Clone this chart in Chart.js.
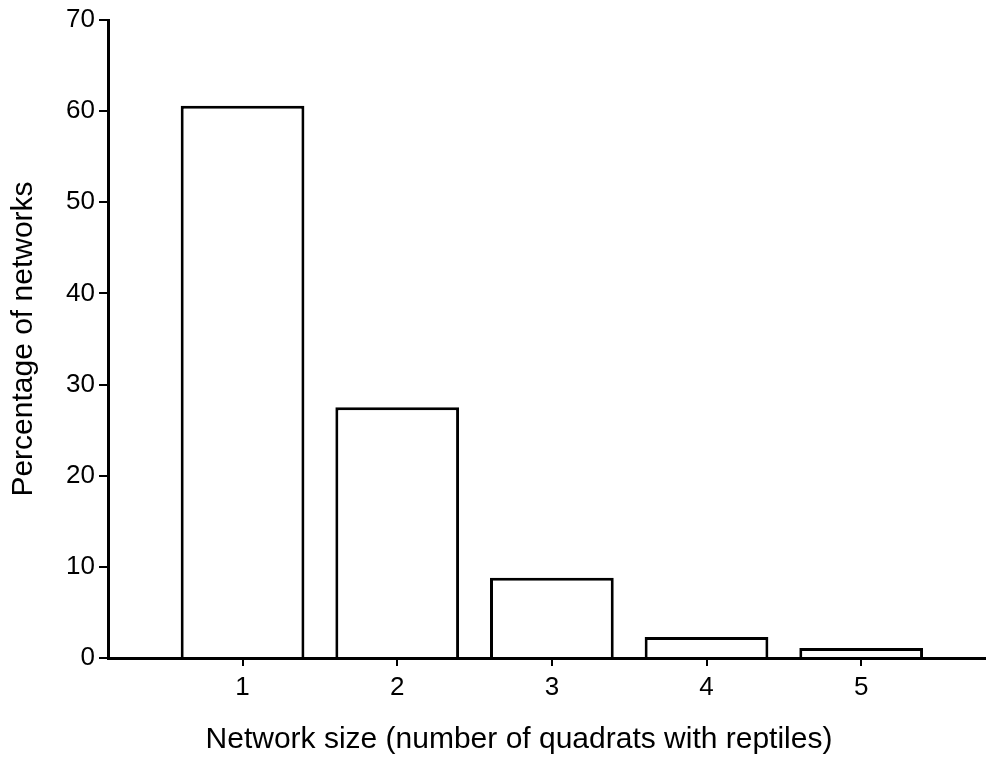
<!DOCTYPE html>
<html>
<head>
<meta charset="utf-8">
<script src="https://cdn.jsdelivr.net/npm/chart.js@4"></script>
<style>
  html, body { margin: 0; padding: 0; background: #fff; }
  #wrap { width: 986px; height: 778px; }
</style>
</head>
<body>
<div id="wrap"><canvas id="networkChart" width="986" height="778"></canvas></div>
<script>
// Network size vs percentage of networks
var networkSizes = [1, 2, 3, 4, 5];
var percentages = [60.6, 27.5, 8.8, 2.3, 1.1];
var xTicks = [1, 2, 3, 4, 5];
var yTicks = [0, 10, 20, 30, 40, 50, 60, 70];

var fontFamily = '"Liberation Sans", Arial, Helvetica, sans-serif';

// x axis line runs on to the right edge of the page
var axisTail = {
    id: 'axisTail',
    afterDraw: function (chart) {
        var c = chart.ctx, a = chart.chartArea;
        var y = Math.round(a.bottom - 1.5) + 1.5; // same pixel alignment as the axis border
        c.save();
        c.strokeStyle = '#000';
        c.lineWidth = 3;
        c.beginPath();
        c.moveTo(a.right - 2, y);
        c.lineTo(chart.width, y);
        c.stroke();
        c.restore();
    }
};

var ctx = document.getElementById('networkChart').getContext('2d');
var networkChart = new Chart(ctx, {
    type: 'bar',
    data: {
        datasets: [{
            data: networkSizes.map(function (s, i) { return { x: s, y: percentages[i] }; }),
            backgroundColor: '#fff',
            borderColor: '#000',
            borderWidth: 3,
            borderSkipped: 'bottom',
            barPercentage: 0.8,
            categoryPercentage: 1
        }]
    },
    plugins: [axisTail],
    options: {
        responsive: false,
        animation: false,
        layout: { padding: { top: 20, right: 56, left: 0, bottom: 0 } },
        plugins: {
            legend: { display: false },
            tooltip: { enabled: false }
        },
        scales: {
            x: {
                type: 'linear',
                offset: false,
                min: 0.13,
                max: 5.445,
                afterBuildTicks: function (scale) {
                    scale.ticks = xTicks.map(function (v) { return { value: v }; });
                },
                afterFit: function (scale) { scale.height = 120; },
                border: { color: '#000', width: 3 },
                grid: { offset: false, drawOnChartArea: false, drawTicks: true, tickLength: 8, color: '#000', lineWidth: 2 },
                ticks: { color: '#000', padding: 6, font: { family: fontFamily, size: 26 }, maxRotation: 0 },
                title: {
                    display: true,
                    text: 'Network size (number of quadrats with reptiles)',
                    color: '#000',
                    font: { family: fontFamily, size: 30 },
                    padding: { top: 0, bottom: 20 }
                }
            },
            y: {
                min: 0,
                max: 70,
                afterBuildTicks: function (scale) {
                    scale.ticks = yTicks.map(function (v) { return { value: v }; });
                },
                afterFit: function (scale) { scale.width = 108; },
                border: { color: '#000', width: 3 },
                grid: { drawOnChartArea: false, drawTicks: true, tickLength: 9, color: '#000', lineWidth: 2 },
                ticks: { color: '#000', padding: 4, font: { family: fontFamily, size: 26 } },
                title: {
                    display: true,
                    text: 'Percentage of networks',
                    color: '#000',
                    font: { family: fontFamily, size: 30 },
                    padding: { top: 6, bottom: 0 }
                }
            }
        }
    }
});
</script>
</body>
</html>
